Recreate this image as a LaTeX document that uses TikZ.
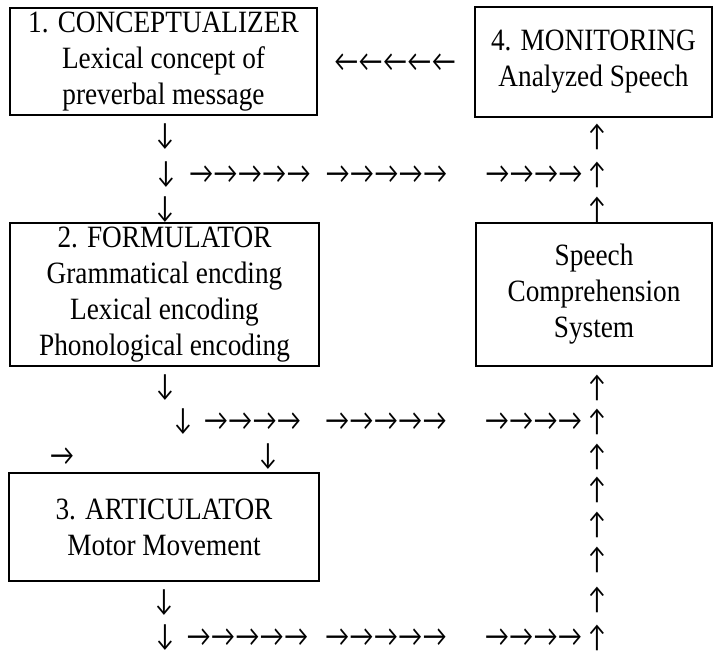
\documentclass[tikz,border=0pt]{standalone}
\usepackage{fontspec}
\setmainfont{Liberation Serif}[FakeStretch=0.88]
\newfontfamily\arrowfont{Lato}[FakeStretch=0.84]

\begin{document}
\begin{tikzpicture}[x=1pt,y=-1pt]
    \tikzstyle{stage}=[draw=black, line width=1.4pt, align=center, inner sep=0pt, font=\fontsize{31}{36}\selectfont]
    \tikzstyle{arr}=[inner sep=0pt, font=\arrowfont\fontsize{29}{29}\selectfont]
    \useasboundingbox (0,0) rectangle (715,652);

    % the five boxes
    \node[stage, minimum width=307pt, minimum height=107pt] (concept) at (163.5,61.5) {1. CONCEPTUALIZER\\Lexical concept of\\preverbal message};
    \node[stage, minimum width=237pt, minimum height=110pt] (monitor) at (593.5,62) {4. MONITORING\\Analyzed Speech};
    \node[stage, minimum width=309pt, minimum height=143pt] (formul) at (164.5,294.5) {2. FORMULATOR\\Grammatical encding\\Lexical encoding\\Phonological encoding};
    \node[stage, minimum width=236pt, minimum height=143pt] (compreh) at (594,294.5) {Speech\\Comprehension\\System};
    \node[stage, minimum width=310pt, minimum height=108pt] (artic) at (164,527) {3. ARTICULATOR\\Motor Movement};

    % monitoring back to conceptualizer
    \node[arr] (back) at (395,63) {←←←←←};

    % conceptualizer to formulator
    \node[arr] (d11) at (165,137) {↓};
    \node[arr] (d12) at (166,175) {↓};
    \node[arr] (d13) at (165,210) {↓};
    \node[arr] (r1a) at (250,175) {→→→→→};
    \node[arr] (r1b) at (386.5,175) {→→→→→};
    \node[arr] (r1c) at (534,175) {→→→→};
    \node[arr] (u11) at (597,137) {↑};
    \node[arr] (u12) at (597,175) {↑};
    \node[arr] (u13) at (597,210) {↑};

    % formulator to articulator
    \node[arr] (d21) at (165,388) {↓};
    \node[arr] (d22) at (183,422) {↓};
    \node[arr] (r2a) at (252.5,422) {→→→→};
    \node[arr] (r2b) at (386,422) {→→→→→};
    \node[arr] (r2c) at (533.5,422) {→→→→};
    \node[arr] (u21) at (597,388) {↑};
    \node[arr] (u22) at (597,422) {↑};
    \node[arr] (in3) at (62,457) {→};
    \node[arr] (d23) at (268,457) {↓};

    % articulator back up to comprehension
    \node[arr] (d31) at (164,603) {↓};
    \node[arr] (d32) at (165,638) {↓};
    \node[arr] (r3a) at (247.5,638) {→→→→→};
    \node[arr] (r3b) at (386,638) {→→→→→};
    \node[arr] (r3c) at (533.5,638) {→→→→};
    \node[arr] (u31) at (597,638) {↑};
    \node[arr] (u32) at (597,600) {↑};
    \node[arr] (u33) at (597,560) {↑};
    \node[arr] (u34) at (597,525) {↑};
    \node[arr] (u35) at (597,490) {↑};
    \node[arr] (u36) at (597,457) {↑};
\end{tikzpicture}
\end{document}
